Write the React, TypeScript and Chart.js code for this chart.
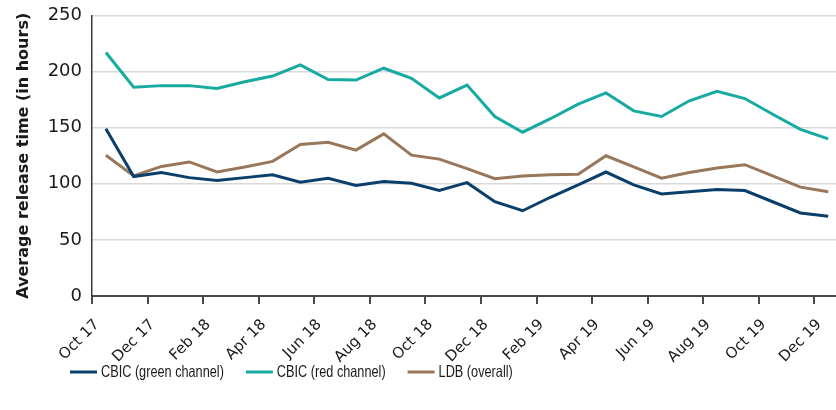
import { useEffect, useRef } from "react";
import { Chart, registerables } from "chart.js";

Chart.register(...registerables);

const months = [
  "Oct 17", "Nov 17", "Dec 17", "Jan 18", "Feb 18", "Mar 18", "Apr 18", "May 18", "Jun 18",
  "Jul 18", "Aug 18", "Sep 18", "Oct 18", "Nov 18", "Dec 18", "Jan 19", "Feb 19", "Mar 19",
  "Apr 19", "May 19", "Jun 19", "Jul 19", "Aug 19", "Sep 19", "Oct 19", "Nov 19", "Dec 19",
];

const greenChannel = [
  149, 106.5, 110, 105.5, 103, 105.5, 108, 101.5, 105, 98.5, 102, 100.5, 94, 101,
  84, 76, 88, 99, 110.5, 99, 91, 93, 95, 94, 84, 74, 71,
];

const redChannel = [
  217, 186, 187.5, 187.5, 185, 191, 196, 206, 193, 192.5, 203, 194, 176.5, 188,
  160, 146, 158, 171, 181, 165, 160, 174, 182.5, 176, 162, 148.5, 140,
];

const ldbOverall = [
  125.5, 107, 115.5, 119.5, 110.5, 115, 120, 135, 137, 130, 144.5, 125.5, 122, 113.5,
  104.5, 107, 108, 108.5, 125, 115, 105, 110, 114, 117, 107, 97, 93,
];

const seriesNames = ["CBIC (green channel)", "CBIC (red channel)", "LDB (overall)"];
const seriesColors = ["#0b3f6b", "#17aaa0", "#98775a"];

const yMin = 0;
const yMax = 250;
const yStep = 50;
const xTickStep = 2;

const toPoints = (arr: number[]) => arr.map((v, i) => ({ x: i + 0.5, y: v }));

const legendPlugin = {
  id: "customLegend",
  afterDraw(chart: any) {
    const ctx = chart.ctx as CanvasRenderingContext2D;
    const squeeze = 0.77;
    ctx.save();
    ctx.font = '16.5px "Liberation Sans", Arial, sans-serif';
    ctx.textBaseline = "middle";
    ctx.textAlign = "left";
    let x = 70;
    const y = 372;
    chart.data.datasets.forEach((ds: any) => {
      ctx.strokeStyle = ds.borderColor;
      ctx.lineWidth = 3;
      ctx.beginPath();
      ctx.moveTo(x, y);
      ctx.lineTo(x + 27, y);
      ctx.stroke();
      x += 27 + 4;
      ctx.save();
      ctx.translate(x, y + 0.5);
      ctx.scale(squeeze, 1);
      ctx.fillStyle = "#1a1a1a";
      ctx.fillText(ds.label, 0, 0);
      ctx.restore();
      x += ctx.measureText(ds.label).width * squeeze + 22;
    });
    ctx.restore();
  },
};

export default function App() {
  const canvasRef = useRef<HTMLCanvasElement | null>(null);

  useEffect(() => {
    document.body.style.margin = "0";
    const canvas = canvasRef.current;
    if (!canvas) return;
    const series = [greenChannel, redChannel, ldbOverall];
    const chart = new Chart(canvas, {
      type: "line",
      data: {
        datasets: series.map((s, i) => ({
          label: seriesNames[i],
          data: toPoints(s),
          borderColor: seriesColors[i],
          backgroundColor: seriesColors[i],
          borderWidth: 3,
          pointRadius: 0,
          tension: 0,
          fill: false,
        })),
      },
      options: {
        responsive: false,
        animation: false,
        layout: { padding: { top: 15.5, right: 0, bottom: 0, left: 0 } },
        plugins: {
          legend: { display: false },
          tooltip: { enabled: false },
        },
        scales: {
          x: {
            type: "linear",
            position: "bottom",
            min: 0,
            max: 26.78,
            afterFit: (scale: any) => {
              scale.height = 114;
              scale.paddingLeft = 0;
              scale.paddingRight = 0;
            },
            grid: {
              drawOnChartArea: false,
              drawTicks: true,
              tickLength: 8,
              color: "#4a4a4a",
              lineWidth: 2,
            },
            border: { display: true, color: "#4a4a4a", width: 2 },
            ticks: {
              stepSize: xTickStep,
              includeBounds: false,
              autoSkip: false,
              maxRotation: 45,
              minRotation: 45,
              padding: 12,
              labelOffset: 5,
              color: "#1a1a1a",
              font: { family: '"DejaVu Sans", sans-serif', size: 15 },
              callback: (value: any) => months[Math.round(Number(value))] ?? "",
            },
          },
          y: {
            min: yMin,
            max: yMax,
            afterFit: (scale: any) => {
              scale.width = 92;
              scale.paddingTop = 0;
              scale.paddingBottom = 0;
            },
            grid: {
              color: "#d9d9d9",
              lineWidth: 1.5,
              drawTicks: false,
            },
            border: { display: true, color: "#3a3a3a", width: 1.5 },
            ticks: {
              stepSize: yStep,
              padding: 10,
              color: "#1a1a1a",
              font: { family: '"DejaVu Sans", sans-serif', size: 18 },
            },
            title: {
              display: true,
              text: "Average release time (in hours)",
              color: "#1a1a1a",
              font: { family: '"DejaVu Sans", sans-serif', size: 16, weight: "bold", lineHeight: 1.2 },
              padding: { top: 14, bottom: 0 },
            },
          },
        },
      },
      plugins: [legendPlugin],
    });
    return () => chart.destroy();
  }, []);

  return (
    <div style={{ width: 836, height: 410, background: "#fff" }}>
      <canvas ref={canvasRef} width={836} height={410} />
    </div>
  );
}
